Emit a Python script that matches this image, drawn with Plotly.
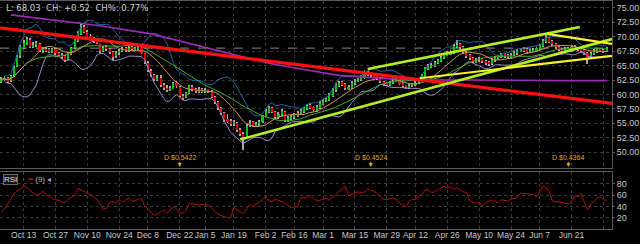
import plotly.graph_objects as go
import pandas as pd

# ---------------- data ----------------
open_ = [62.2,62.5,62.9,62.3,63.3,64.9,66.6,68.1,68.8,69.5,
         68.3,68.5,68.8,67.5,67.9,67.8,67.3,67.9,67.0,66.9,
         66.6,66.1,67.0,68.1,69.3,70.5,71.7,70.8,70.1,69.5,
         69.4,68.9,67.6,68.2,67.9,67.3,66.6,67.1,67.5,68.0,
         67.6,68.2,67.7,67.9,68.1,67.1,65.5,64.1,63.4,62.6,
         62.8,61.7,61.2,60.8,61.0,61.9,61.3,59.8,59.5,60.3,
         61.3,60.9,60.5,60.9,60.5,60.8,60.5,59.5,58.6,57.7,
         56.7,55.7,55.4,54.8,55.1,53.9,53.2,52.7,54.5,55.2,
         54.5,54.9,55.2,56.3,57.0,57.7,57.0,56.0,56.5,57.0,
         55.5,55.9,56.0,56.3,56.7,57.0,57.5,58.1,57.9,57.2,
         57.7,58.4,58.8,59.1,59.8,60.7,61.5,62.1,61.8,61.0,
         61.2,61.9,62.3,62.5,62.9,63.8,63.5,63.4,63.2,62.9,
         62.2,61.9,61.6,62.0,62.3,62.4,61.9,61.5,61.2,61.5,
         61.6,62.0,62.7,63.1,64.4,64.9,65.0,65.4,65.8,66.3,
         66.8,67.0,67.2,68.3,68.7,68.2,67.4,66.8,66.3,65.7,
         66.0,66.2,65.8,65.5,65.3,65.9,66.2,66.5,66.9,66.7,
         66.4,66.9,67.1,67.5,67.9,67.8,67.4,67.5,67.6,67.9,
         68.4,69.1,69.8,69.2,68.8,68.3,67.9,67.6,68.0,67.5,
         68.3,68.1,67.8,67.7,67.2,66.5,67.0,67.4,67.8,67.7,
         67.5]
high = [63.0,63.2,63.1,63.4,65.0,66.8,68.5,69.4,70.0,69.7,
        69.1,69.3,69.0,68.3,68.2,68.0,68.1,68.0,67.4,67.1,
        66.8,67.3,68.3,69.6,71.0,72.3,72.0,71.1,70.4,69.9,
        69.7,69.0,68.4,68.5,68.1,67.5,67.5,67.9,68.2,68.3,
        68.4,68.4,68.3,68.6,68.3,67.2,65.8,64.4,63.6,63.4,
        63.3,62.0,61.6,61.5,62.2,62.3,61.4,60.1,60.5,61.7,
        61.6,61.2,61.3,61.2,61.1,61.0,60.7,59.7,58.8,57.9,
        56.9,56.6,55.8,55.6,55.3,54.2,53.5,54.9,55.5,55.4,
        55.3,55.6,56.5,57.4,58.0,57.9,57.2,57.0,57.4,57.1,
        56.3,56.5,56.8,57.1,57.4,57.9,58.4,58.5,58.0,58.1,
        58.8,59.2,59.5,60.2,61.1,61.9,62.4,62.3,61.9,61.7,
        62.3,62.7,62.9,63.3,64.3,64.1,63.8,63.6,63.4,63.0,
        62.4,62.1,62.3,62.7,62.8,62.6,62.1,61.7,61.8,62.0,
        62.3,62.9,63.5,64.8,65.2,65.5,65.8,66.2,66.7,67.2,
        67.5,67.7,68.8,69.4,69.0,68.4,67.6,67.0,66.5,66.3,
        66.5,66.4,66.0,65.8,66.3,66.6,66.9,67.1,67.1,67.0,
        67.2,67.5,67.9,68.1,68.2,68.0,67.9,68.0,68.3,68.8,
        69.6,70.5,70.0,69.4,69.0,68.5,68.1,68.2,68.2,68.5,
        68.5,68.3,68.1,67.9,67.3,67.3,67.8,68.1,68.0,67.9,
        68.3]
low = [62.0,62.3,61.9,62.1,63.1,64.7,66.4,67.9,68.5,68.0,
       68.0,68.2,67.4,67.2,67.4,67.1,67.1,66.9,66.6,66.2,
       65.6,65.9,66.8,67.9,69.1,70.3,70.6,69.8,69.3,69.0,
       68.7,67.2,67.3,67.5,67.0,65.9,66.3,66.9,67.3,67.4,
       67.4,67.5,67.5,67.7,67.0,65.3,63.9,63.0,62.3,62.3,
       61.3,60.8,60.5,60.6,60.9,61.2,59.5,59.0,59.3,60.1,
       60.6,60.3,60.3,60.2,60.3,60.2,59.3,58.3,57.3,56.5,
       55.3,55.0,54.5,54.6,53.5,52.8,50.4,52.5,54.3,54.3,
       54.3,54.6,55.0,56.0,56.8,56.7,55.7,55.8,56.3,55.3,
       55.2,55.6,55.8,56.1,56.5,56.8,57.3,57.5,57.0,57.0,
       57.5,58.2,58.6,58.9,59.6,60.5,61.3,61.4,60.8,60.8,
       61.0,61.7,62.1,62.3,62.7,63.2,63.1,62.8,62.5,62.0,
       61.5,61.4,61.4,61.8,62.1,61.6,61.2,61.0,61.0,61.3,
       61.4,61.8,62.5,62.9,64.2,64.6,64.8,65.2,65.6,66.1,
       66.6,66.8,67.0,68.1,67.9,67.0,66.4,66.0,65.5,65.4,
       65.7,65.5,65.1,64.9,65.1,65.7,66.0,66.3,66.4,66.2,
       66.2,66.7,66.9,67.3,67.4,67.2,67.2,67.3,67.4,67.7,
       68.2,68.9,68.9,68.4,67.9,67.5,67.4,67.4,67.3,67.3,
       67.7,67.5,67.4,66.9,65.3,66.2,66.8,67.2,67.3,67.2,
       67.4]
close = [62.6,62.9,62.2,63.2,64.8,66.5,68.2,69.0,69.6,68.2,
         68.6,68.9,67.6,67.9,67.7,67.4,67.8,67.1,66.9,66.5,
         66.0,67.1,68.0,69.4,70.6,71.6,70.9,70.0,69.6,69.3,
         69.0,67.5,68.1,67.8,67.4,66.5,67.2,67.6,67.9,67.7,
         68.1,67.8,68.0,68.2,67.2,65.6,64.2,63.3,62.7,62.9,
         61.6,61.2,60.9,61.1,61.9,61.5,59.7,59.4,60.2,61.4,
         60.9,60.6,60.9,60.5,60.8,60.6,59.6,58.6,57.6,56.8,
         55.6,55.3,54.9,55.2,53.8,53.1,52.6,54.6,55.1,54.6,
         54.9,55.3,56.2,57.1,57.6,57.0,56.0,56.6,57.1,55.6,
         55.9,56.1,56.4,56.8,57.1,57.6,58.0,57.8,57.3,57.8,
         58.5,58.9,59.2,59.9,60.8,61.6,62.0,61.7,61.1,61.3,
         62.0,62.4,62.6,63.0,63.7,63.5,63.4,63.1,62.8,62.3,
         61.8,61.7,62.0,62.4,62.5,61.8,61.5,61.3,61.5,61.7,
         62.0,62.6,63.2,64.5,64.8,65.1,65.5,65.9,66.4,66.9,
         67.1,67.3,68.4,68.6,68.2,67.3,66.7,66.3,65.8,66.0,
         66.1,65.8,65.4,65.3,66.0,66.3,66.6,66.8,66.7,66.5,
         66.9,67.2,67.6,67.8,67.7,67.5,67.6,67.7,68.0,68.5,
         69.2,69.9,69.1,68.7,68.2,67.8,67.7,67.9,67.6,68.2,
         68.0,67.8,67.7,67.2,66.4,67.0,67.5,67.8,67.6,67.51,
         68.03]
rsi9 = [30,36,45,54,63,68,71,76,74,69,
        64,60,62,67,62,58,54,52,51,48,
        47,53,56,60,72,70,67,63,61,58,
        53,44,36,37,48,49,47,52,47,52,
        55,50,50,53,54,41,36,31,25,27,
        31,34,28,35,40,36,29,29,33,46,
        45,44,43,44,43,42,38,31,27,24,
        22,21,20,39,34,31,28,36,44,39,
        45,47,53,58,50,49,53,51,49,47,
        42,38,39,40,55,56,55,60,55,50,
        51,53,55,51,57,61,67,71,76,59,
        62,64,66,64,66,71,69,67,63,57,
        53,52,54,55,53,46,43,39,49,53,
        52,59,62,69,70,65,66,69,73,76,
        72,75,70,74,70,66,65,51,47,46,
        48,41,47,50,52,49,47,52,51,50,
        53,54,56,64,63,62,62,61,57,66,
        76,73,67,50,49,48,48,46,45,49,
        60,57,63,48,34,43,49,55,58,52,
        51]

tick_bar = [7,17,27,37,46,56,64,73,83,92,101,111,121,130,140,150,160,169,179,189]
tick_text = ["Oct 13","Oct 27","Nov 10","Nov 24","Dec 8","Dec 22","Jan 5","Jan 19",
             "Feb 2","Feb 16","Mar 1","Mar 15","Mar 29","Apr 12","Apr 26","May 10",
             "May 24","Jun 7","Jun 21",""]

ma_long_bar = [3,15,31,47,62,75,84,94,106,119,131,147,163,175,190]
ma_long_val = [73.8,73.0,71.9,70.5,68.4,66.6,65.4,64.4,63.3,62.8,62.5,62.5,62.4,62.4,62.4]

div_bar = [56,116,178]
div_text = ["D $0.5422","D $0.4524","D $0.4364"]

trend_red_x, trend_red_y = [-0.4, 191.7], [71.55, 58.45]
trend_green_lo_x, trend_green_lo_y = [75, 191.7], [52.2, 69.6]
trend_green_hi_x, trend_green_hi_y = [115, 181.6], [64.4, 71.7]
trend_yel_lo_x, trend_yel_lo_y = [131.4, 191.7], [62.8, 66.7]
trend_yel_hi_x, trend_yel_hi_y = [171.3, 191.7], [70.5, 68.75]

price_ticks = [50.0,52.5,55.0,57.5,60.0,62.5,65.0,67.5,70.0,72.5,75.0]
rsi_ticks = [20,40,60,80]

# ---------------- derived indicators ----------------
bars = list(range(len(close)))
s = pd.Series(close)
sma10 = s.rolling(10, min_periods=1).mean()
sma20 = s.rolling(20, min_periods=1).mean()
sd10 = s.rolling(10, min_periods=2).std(ddof=1)
bb_up = sma10 + 2 * sd10
bb_lo = sma10 - 2 * sd10

body_base = [min(o, c) for o, c in zip(open_, close)]
body_h = [max(abs(c - o), 0.12) for o, c in zip(open_, close)]
body_col = ["#00c800" if c >= o else "#e80000" for o, c in zip(open_, close)]
wick_h = [h - l for h, l in zip(high, low)]

last = close[-1]
chg = close[-1] - close[-2]
chg_pct = chg / close[-2] * 100

fig = go.Figure()
fig.add_trace(go.Bar(x=bars, y=wick_h, base=low, width=0.3,
                     marker=dict(color="#a8a8a8", line=dict(width=0)),
                     xaxis="x", yaxis="y"))
fig.add_trace(go.Bar(x=bars, y=body_h, base=body_base, width=0.66,
                     marker=dict(color=body_col, line=dict(width=0)),
                     xaxis="x", yaxis="y"))

def line(x, y, color, width, xa="x", ya="y"):
    fig.add_trace(go.Scatter(x=x, y=y, mode="lines", xaxis=xa, yaxis=ya,
                             line=dict(color=color, width=width), hoverinfo="skip"))

line(bars, bb_up, "#1f6aa6", 1)
line(bars, bb_lo, "#9a88d0", 1)
line(bars, sma20, "#3fae2a", 1)
line(bars, sma10, "#c89a5a", 1)
line(ma_long_bar, ma_long_val, "#9a2cb8", 1.6)
line(trend_red_x, trend_red_y, "#ff1010", 3.2)
line(trend_green_lo_x, trend_green_lo_y, "#b4f01e", 2.6)
line(trend_green_hi_x, trend_green_hi_y, "#b4f01e", 2.6)
line(trend_yel_lo_x, trend_yel_lo_y, "#f8f028", 2.2)
line(trend_yel_hi_x, trend_yel_hi_y, "#f8f028", 2.2)
line(bars, rsi9, "#b01010", 1, "x2", "y2")

W, H = 640, 244
x_dom = [0, 612 / W]
main_dom = [1 - 168 / H, 1 - 1 / H]
rsi_dom = [1 - 229 / H, 1 - 172 / H]

grid = dict(showgrid=True, gridcolor="#3c3c3c", griddash="dot", gridwidth=1,
            zeroline=False, showline=True, linecolor="#5a5a5a", linewidth=1,
            mirror=True, automargin=False)
xr = [-0.41, 191.7]
fig.update_layout(
    width=W, height=H, margin=dict(l=0, r=0, t=0, b=0),
    paper_bgcolor="#000000", plot_bgcolor="#000000",
    showlegend=False, barmode="overlay", bargap=0,
    font=dict(family="Liberation Sans, Arial, sans-serif", size=9, color="#c8c8c8"),
    xaxis=dict(domain=x_dom, range=xr, anchor="y", tickvals=tick_bar,
               showticklabels=False, ticks="", **grid),
    xaxis2=dict(domain=x_dom, range=xr, anchor="y2", matches="x", tickvals=tick_bar,
                ticktext=tick_text, showticklabels=True, ticks="", tickangle=0,
                ticklabelstandoff=-2,
                tickfont=dict(size=8.5, color="#c8c8c8"), **grid),
    yaxis=dict(domain=main_dom, range=[47.24, 76.2], side="right", anchor="x",
               tickvals=price_ticks, tickformat=".2f", ticks="outside", ticklen=2,
               tickcolor="#5a5a5a", tickfont=dict(size=9, color="#c8c8c8"), **grid),
    yaxis2=dict(domain=rsi_dom, range=[0.6, 101], side="right", anchor="x2",
                tickvals=rsi_ticks, ticks="outside", ticklen=2, tickcolor="#5a5a5a",
                tickfont=dict(size=9, color="#c8c8c8"), **grid),
)

fig.add_shape(type="line", xref="x", yref="y", x0=xr[0], x1=xr[1], y0=last, y1=last,
              line=dict(color="#8a8a8a", width=1, dash="dash"), layer="below")

fig.add_annotation(xref="paper", yref="paper", x=4 / W, y=1 - 1 / H, xanchor="left",
                   yanchor="top", showarrow=False,
                   text=f"L: {last:.2f}  CH: {chg:+.2f}  CH%: {chg_pct:.2f}%",
                   font=dict(family="DejaVu Sans", size=8.5, color="#d0d0d0"))

for b, t in zip(div_bar, div_text):
    fig.add_annotation(x=b, y=47.4, xref="x", yref="y", text=t, showarrow=True,
                       arrowhead=2, arrowsize=0.8, arrowwidth=1, arrowcolor="#e8a800",
                       ax=0, ay=-10, standoff=0, font=dict(size=7, color="#e8a800"))

fig.add_annotation(xref="paper", yref="paper", x=3 / W, y=1 - 174 / H, xanchor="left",
                   yanchor="top", showarrow=False, text="RSI",
                   font=dict(size=8, color="#e0e0e0"), bgcolor="#141414",
                   bordercolor="#6a6a6a", borderwidth=1, borderpad=0)
fig.add_annotation(xref="paper", yref="paper", x=25 / W, y=1 - 173 / H, xanchor="left",
                   yanchor="top", showarrow=False,
                   text="<span style='color:#c01010'>━</span> (9) <span style='color:#8fa8c8'>◂</span>",
                   font=dict(size=8, color="#b0b0b0"))

fig.write_html("out.html")
